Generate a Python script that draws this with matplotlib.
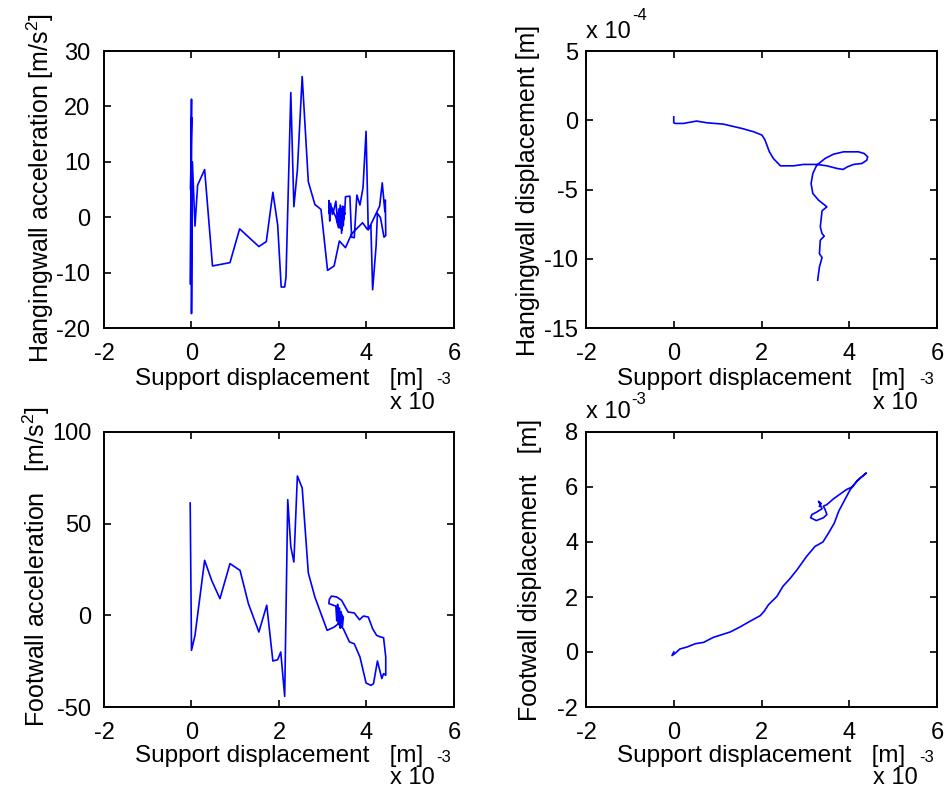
import matplotlib
matplotlib.use("Agg")
import matplotlib.pyplot as plt

plt.rcParams['font.family'] = ['Liberation Sans', 'DejaVu Sans']
plt.rcParams['font.size'] = 17
plt.rcParams['axes.unicode_minus'] = False
plt.rcParams['mathtext.default'] = 'regular'

# support displacement in units of 1e-3 m
hw_acc_x = [-0.03, 0.0, -0.02, 0.0, 0.0, 0.02, 0.08, 0.14, 0.30, 0.48, 0.88, 1.10,
            1.54, 1.71, 1.86, 1.97, 2.05, 2.13, 2.16, 2.27, 2.34, 2.42, 2.53, 2.67,
            2.82, 2.96, 3.11, 3.26, 3.38, 3.52, 3.66, 3.91, 4.02, 4.10, 4.14, 4.22,
            4.25, 4.32, 4.40, 4.44, 4.43, 4.42, 4.36, 4.30, 4.04, 3.99, 3.92, 3.85,
            3.78, 3.72, 3.66, 3.62, 3.52, 3.50, 3.45, 3.40, 3.37, 3.34, 3.30, 3.26,
            3.22, 3.18, 3.16, 3.14, 3.14, 3.20, 3.30, 3.36, 3.40, 3.43, 3.45, 3.47,
            3.48, 3.42, 3.38, 3.44, 3.50, 3.46, 3.42]
hw_acc_y = [-12.0, 18.0, 5.0, 21.3, -17.4, 10.0, -1.6, 5.8, 8.6, -8.8, -8.2, -2.1,
            -5.3, -4.4, 4.5, -1.4, -12.6, -12.6, -10.8, 22.5, 1.9, 8.5, 25.4, 6.4,
            2.3, 1.4, -9.6, -8.8, -4.3, -5.5, -3.0, -1.0, -2.2, -1.5, -13.1, -5.1,
            0.7, -0.1, -3.6, -3.3, 3.1, 1.0, 6.2, 2.0, -2.3, 15.5, 5.3, 2.2,
            4.0, -3.7, -3.6, 3.8, 3.7, 0.5, 2.0, -2.0, 1.5, -1.0, 2.9, 1.5,
            0.5, 2.5, -0.7, 3.0, 0.7, 1.8, 0.0, -1.9, 2.2, -2.9, 1.5, -1.5,
            1.9, -0.5, 1.2, -2.3, 0.8, -0.8, 0.3]

# hangingwall displacement in units of 1e-4 m
hw_disp_x = [0.0, 0.0, 0.03, 0.22, 0.52, 0.75, 1.13, 1.55, 1.82, 2.01, 2.08, 2.18,
             2.27, 2.43, 2.73, 2.96, 3.26, 3.49, 3.72, 3.86, 3.96, 4.10, 4.29, 4.40,
             4.42, 4.34, 4.21, 3.87, 3.64, 3.45, 3.26, 3.17, 3.13, 3.17, 3.30, 3.49,
             3.38, 3.34, 3.38, 3.43, 3.34, 3.32, 3.38, 3.32, 3.28]
hw_disp_y = [0.25, -0.18, -0.23, -0.23, -0.06, -0.18, -0.28, -0.59, -0.83, -1.07,
             -1.43, -2.28, -2.76, -3.29, -3.29, -3.19, -3.19, -3.29, -3.48, -3.55,
             -3.36, -3.19, -3.12, -2.88, -2.64, -2.40, -2.28, -2.28, -2.45, -2.76,
             -3.24, -3.84, -4.57, -5.29, -5.77, -6.25, -6.54, -7.70, -8.18, -8.37,
             -8.66, -9.63, -9.92, -10.59, -11.55]

fw_acc_x = [-0.03, 0.0, 0.08, 0.30, 0.46, 0.65, 0.88, 1.11, 1.30, 1.54, 1.72, 1.86,
            1.97, 2.04, 2.13, 2.20, 2.27, 2.34, 2.42, 2.53, 2.67, 2.82, 3.10, 3.26,
            3.36, 3.47, 3.61, 3.72, 3.85, 3.99, 4.10, 4.16, 4.25, 4.35, 4.39, 4.44,
            4.44, 4.39, 4.32, 4.23, 4.14, 4.04, 3.93, 3.84, 3.72, 3.58, 3.43, 3.32,
            3.20, 3.15, 3.14, 3.30, 3.32, 3.34, 3.36, 3.38, 3.40, 3.42, 3.45, 3.47,
            3.36, 3.40]
fw_acc_y = [61.3, -19.1, -10.9, 30.0, 19.1, 9.1, 28.2, 24.5, 6.4, -9.1, 5.5, -24.9,
            -24.2, -20.0, -44.2, 63.1, 37.3, 29.1, 76.0, 69.5, 23.1, 10.0, -8.2, -6.4,
            -4.5, -7.3, -14.5, -15.5, -22.7, -36.9, -38.2, -37.3, -24.9, -34.5, -31.8, -32.7,
            -22.7, -12.2, -11.8, -10.9, -7.3, -0.9, -0.4, -2.4, 1.3, 1.8, 8.2, 10.0,
            10.5, 8.7, 6.4, 5.0, -3.0, 6.0, -5.0, 4.0, -7.0, 2.0, -6.0, -1.0,
            3.0, -2.0]

# footwall displacement in units of 1e-3 m
fw_disp_x = [0.0, -0.04, 0.03, 0.14, 0.30, 0.49, 0.68, 0.90, 1.29, 1.51, 1.74, 1.97,
             2.06, 2.16, 2.35, 2.49, 2.65, 2.81, 3.03, 3.22, 3.40, 3.53, 3.66, 3.76,
             3.86, 4.02, 4.17, 4.39, 4.25, 4.06, 3.93, 3.64, 3.49, 3.41, 3.45, 3.49,
             3.41, 3.25, 3.12, 3.15, 3.26, 3.38, 3.30, 3.36, 3.32]
fw_disp_y = [0.0, -0.13, -0.05, 0.11, 0.18, 0.30, 0.35, 0.53, 0.73, 0.91, 1.12, 1.32,
             1.48, 1.72, 2.02, 2.39, 2.67, 2.99, 3.48, 3.84, 4.00, 4.33, 4.69, 5.12,
             5.42, 5.90, 6.21, 6.51, 6.33, 6.00, 5.90, 5.57, 5.36, 5.30, 5.18, 5.00,
             4.88, 4.78, 4.88, 5.00, 5.09, 5.21, 5.48, 5.40, 5.30]

x_ticks = [-2, 0, 2, 4, 6]

W, H = 945, 791
fig = plt.figure(figsize=(W / 100, H / 100), dpi=100)


def px_axes(left, top, right, bottom):
    return fig.add_axes([left / W, 1 - bottom / H, (right - left) / W, (bottom - top) / H])


def style(ax, yticks, ypad):
    ax.set_xlim(-2, 6)
    ax.set_xticks(x_ticks)
    ax.set_ylim(yticks[0], yticks[-1])
    ax.set_yticks(yticks)
    ax.tick_params(direction='in', top=True, right=True, length=5, width=1.2,
                   labelsize=17)
    ax.tick_params(axis='x', pad=11)
    ax.tick_params(axis='y', pad=ypad)
    for s in ax.spines.values():
        s.set_linewidth(1.4)


def ptext(x, y, s, **kw):
    fig.text(x / W, 1 - y / H, s, **kw)


# box, data, y ticks, y tick pad, x-label offset, exponent offset
panels = [
    ((104, 51, 454, 328), hw_acc_x, hw_acc_y, [-20, -10, 0, 10, 20, 30], 10, 51, 75),
    ((586, 51, 937, 328), hw_disp_x, hw_disp_y, [-15, -10, -5, 0, 5], 5.5, 51, 75),
    ((104, 432, 454, 707), fw_acc_x, fw_acc_y, [-50, 0, 50, 100], 9, 49, 71),
    ((586, 432, 937, 707), fw_disp_x, fw_disp_y, [-2, 0, 2, 4, 6, 8], 5.5, 49, 71),
]

for box, xs, ys, yt, ypad, lab_off, exp_off in panels:
    ax = px_axes(*box)
    ax.plot(xs, ys, color='#0000ff', lw=1.2)
    style(ax, yt, ypad)
    cx = (box[0] + box[2]) / 2
    ptext(cx, box[3] + lab_off, 'Support displacement   [m]', ha='center', va='center', fontsize=17.5)
    # x-axis exponent
    ptext(box[2] - 64, box[3] + exp_off, 'x 10', ha='left', va='center', fontsize=17)
    ptext(box[2] - 18, box[3] + lab_off + 1, '-3', ha='left', va='center', fontsize=12)

# y labels
ptext(40, 188, 'Hangingwall acceleration [m/s$^{2}$]', rotation=90, ha='center', va='center', fontsize=18)
ptext(36, 567, 'Footwall acceleration   [m/s$^{2}$]', rotation=90, ha='center', va='center', fontsize=18)
ptext(528, 190, 'Hangingwall displacement [m]', rotation=90, ha='center', va='center', fontsize=18)
ptext(530, 570, 'Footwall displacement   [m]', rotation=90, ha='center', va='center', fontsize=18)

# y-axis exponents on the displacement panels
ptext(586, 32, 'x 10', ha='left', va='center', fontsize=17)
ptext(632, 15, '-4', ha='left', va='center', fontsize=12)
ptext(586, 412, 'x 10', ha='left', va='center', fontsize=17)
ptext(631, 400, '-3', ha='left', va='center', fontsize=12)

fig.savefig('out.png', dpi=100)
